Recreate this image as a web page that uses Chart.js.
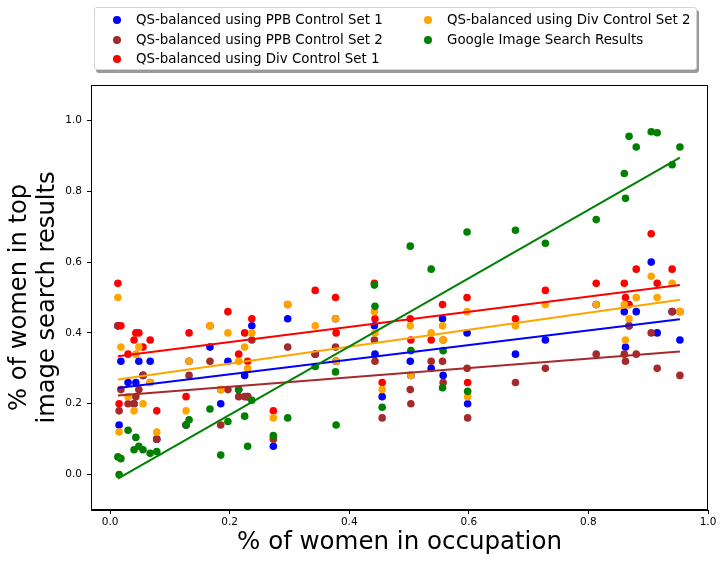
<!DOCTYPE html>
<html>
<head>
<meta charset="utf-8">
<script src="https://cdn.jsdelivr.net/npm/chart.js@4/dist/chart.umd.min.js"></script>
<style>
    body { margin: 0; background: #fff; }
    #wrap { position: relative; width: 726px; height: 562px; }
    #legend {
        position: absolute; left: 94px; top: 7px; width: 601px; height: 61px;
        border: 1px solid #d4d4d4; border-radius: 3px; background: #fff;
        box-shadow: 2px 3px 0 #9a9a9a;
        font-family: "DejaVu Sans", sans-serif; font-size: 13.4px; color: #000;
    }
    #legend .item { position: absolute; white-space: nowrap; line-height: 16px; }
    #legend .dot {
        position: absolute; width: 8px; height: 8px; border-radius: 50%;
        left: -23px; top: 4px;
    }
</style>
</head>
<body>
<div id="wrap">
    <canvas id="myChart" width="726" height="562"></canvas>
    <div id="legend"></div>
</div>
<script>
// occupations (share of women), one entry per occupation
var occX = [0.013, 0.018, 0.015, 0.030, 0.040, 0.043, 0.048, 0.055, 0.067, 0.078,
    0.127, 0.132, 0.167, 0.185, 0.197, 0.215, 0.225, 0.230, 0.237, 0.273,
    0.297, 0.343, 0.377, 0.378, 0.442, 0.443, 0.455, 0.502, 0.503, 0.537,
    0.556, 0.557, 0.597, 0.598, 0.678, 0.728, 0.813, 0.860, 0.862, 0.868,
    0.880, 0.905, 0.915, 0.940, 0.953];

// % of women in image search results, per series
var ppb1 = [0.42, 0.32, 0.14, 0.26, 0.20, 0.26, 0.32, 0.28, 0.32, 0.10,
    0.14, 0.32, 0.36, 0.20, 0.32, 0.24, 0.28, 0.22, 0.42, 0.08,
    0.44, 0.34, 0.44, 0.32, 0.42, 0.34, 0.22, 0.32, 0.28, 0.30,
    0.44, 0.28, 0.40, 0.20, 0.34, 0.38, 0.48, 0.46, 0.36, 0.42,
    0.46, 0.60, 0.40, 0.46, 0.38];
var ppb2 = [0.42, 0.24, 0.18, 0.20, 0.20, 0.22, 0.24, 0.28, 0.26, 0.10,
    0.14, 0.28, 0.32, 0.14, 0.24, 0.22, 0.22, 0.22, 0.38, 0.10,
    0.36, 0.34, 0.36, 0.32, 0.38, 0.32, 0.16, 0.24, 0.20, 0.32,
    0.32, 0.26, 0.30, 0.16, 0.26, 0.30, 0.34, 0.34, 0.32, 0.42,
    0.34, 0.40, 0.30, 0.46, 0.28];
var div1 = [0.54, 0.42, 0.20, 0.34, 0.38, 0.40, 0.40, 0.36, 0.38, 0.18,
    0.22, 0.40, 0.42, 0.24, 0.46, 0.34, 0.40, 0.32, 0.44, 0.18,
    0.48, 0.52, 0.50, 0.40, 0.54, 0.44, 0.26, 0.44, 0.38, 0.38,
    0.48, 0.38, 0.50, 0.26, 0.44, 0.52, 0.54, 0.54, 0.50, 0.48,
    0.58, 0.68, 0.54, 0.58, 0.46];
var div2 = [0.50, 0.36, 0.12, 0.22, 0.18, 0.34, 0.36, 0.20, 0.26, 0.12,
    0.18, 0.32, 0.42, 0.24, 0.40, 0.32, 0.36, 0.30, 0.40, 0.16,
    0.48, 0.42, 0.44, 0.32, 0.46, 0.40, 0.24, 0.42, 0.28, 0.40,
    0.42, 0.38, 0.46, 0.22, 0.42, 0.48, 0.48, 0.48, 0.38, 0.44,
    0.50, 0.56, 0.50, 0.54, 0.46];
var google = [0.05, 0.045, 0.0, 0.125, 0.07, 0.105, 0.08, 0.07, 0.06, 0.065,
    0.14, 0.155, 0.185, 0.055, 0.15, 0.24, 0.165, 0.08, 0.21, 0.11,
    0.16, 0.305, 0.29, 0.14, 0.535, 0.475, 0.19, 0.645, 0.35, 0.58,
    0.245, 0.35, 0.685, 0.235, 0.69, 0.653, 0.72, 0.85, 0.78, 0.955,
    0.925, 0.968, 0.965, 0.875, 0.925];

var seriesLabels = ['QS-balanced using PPB Control Set 1', 'QS-balanced using PPB Control Set 2',
    'QS-balanced using Div Control Set 1', 'QS-balanced using Div Control Set 2',
    'Google Image Search Results'];
var seriesValues = [ppb1, ppb2, div1, div2, google];
var seriesColors = ['#0000ff', '#a52a2a', '#ff0000', '#ffa500', '#008000'];

var xTicks = [0.0, 0.2, 0.4, 0.6, 0.8, 1.0];
var yTicks = [0.0, 0.2, 0.4, 0.6, 0.8, 1.0];

// least squares fit, drawn from min x to max x
function fitLine(xs, ys) {
    var n = xs.length, sx = 0, sy = 0, sxx = 0, sxy = 0;
    for (var i = 0; i < n; i++) {
        sx += xs[i]; sy += ys[i]; sxx += xs[i] * xs[i]; sxy += xs[i] * ys[i];
    }
    var b = (n * sxy - sx * sy) / (n * sxx - sx * sx);
    var a = (sy - b * sx) / n;
    var x0 = Math.min.apply(null, xs), x1 = Math.max.apply(null, xs);
    return [{ x: x0, y: a + b * x0 }, { x: x1, y: a + b * x1 }];
}

var datasets = [];
seriesValues.forEach(function (vals, i) {
    datasets.push({
        type: 'scatter',
        label: seriesLabels[i],
        data: occX.map(function (x, j) { return { x: x, y: vals[j] }; }),
        backgroundColor: seriesColors[i],
        borderWidth: 0,
        pointRadius: 3.8,
        pointHoverRadius: 3.8,
        order: 10 - i
    });
});
seriesValues.forEach(function (vals, i) {
    datasets.push({
        type: 'line',
        label: 'fit' + i,
        data: fitLine(occX, vals),
        borderColor: seriesColors[i],
        borderWidth: 2,
        pointRadius: 0,
        fill: false,
        order: 5 - i
    });
});

// black frame round the plot
var frame = {
    id: 'frame',
    afterDraw: function (chart) {
        var a = chart.chartArea, ctx = chart.ctx;
        ctx.save();
        ctx.strokeStyle = '#000';
        ctx.lineWidth = 1;
        ctx.strokeRect(a.left + 0.5, a.top + 0.5, a.right - a.left - 1, a.bottom - a.top - 1);
        ctx.restore();
    }
};

var tickFont = { family: 'DejaVu Sans', size: 10.5 };

new Chart("myChart", {
    type: 'scatter',
    data: { datasets: datasets },
    options: {
        responsive: false,
        animation: false,
        devicePixelRatio: 1,
        layout: { padding: { top: 85, right: 18, left: 0, bottom: 0 } },
        plugins: { legend: { display: false }, tooltip: { enabled: false } },
        scales: {
            x: {
                type: 'linear', min: -0.032, max: 1.0,
                afterFit: function (s) { s.height = 52; },
                afterBuildTicks: function (s) { s.ticks = xTicks.map(function (v) { return { value: v }; }); },
                ticks: { font: tickFont, color: '#000', padding: 2, maxRotation: 0,
                    callback: function (v) { return v.toFixed(1); } },
                grid: { display: true, drawOnChartArea: false, tickLength: 4, color: '#000' },
                border: { color: '#000' },
                title: { display: true, text: '% of women in occupation', color: '#000',
                    font: { family: 'DejaVu Sans', size: 24.5, lineHeight: 1.15 },
                    padding: { top: 0, bottom: 5 } }
            },
            y: {
                type: 'linear', min: -0.1, max: 1.1,
                afterFit: function (s) { s.width = 91; },
                afterBuildTicks: function (s) { s.ticks = yTicks.map(function (v) { return { value: v }; }); },
                ticks: { font: tickFont, color: '#000', padding: 5,
                    callback: function (v) { return v.toFixed(1); } },
                grid: { display: true, drawOnChartArea: false, tickLength: 4, color: '#000' },
                border: { color: '#000' },
                title: { display: true, text: ['% of women in top', 'image search results'], color: '#000',
                    font: { family: 'DejaVu Sans', size: 24.2, lineHeight: 1.15 },
                    padding: { top: 6, bottom: 0 } }
            }
        }
    },
    plugins: [frame]
});

// legend, two columns like the original
var legendPos = [[0, 0], [0, 1], [0, 2], [1, 0], [1, 1]];
var legendBox = document.getElementById('legend');
seriesLabels.forEach(function (label, i) {
    var item = document.createElement('div');
    item.className = 'item';
    item.style.left = (legendPos[i][0] ? 352 : 41) + 'px';
    item.style.top = (4 + legendPos[i][1] * 19.5) + 'px';
    var dot = document.createElement('span');
    dot.className = 'dot';
    dot.style.background = seriesColors[i];
    item.appendChild(dot);
    item.appendChild(document.createTextNode(label));
    legendBox.appendChild(item);
});
</script>
</body>
</html>
